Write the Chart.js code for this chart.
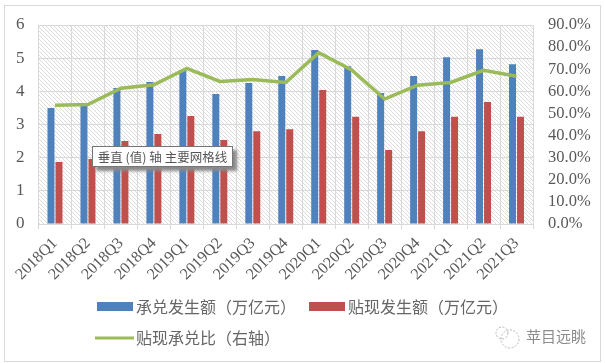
<!DOCTYPE html>
<html lang="zh">
<head>
<meta charset="UTF-8">
<title>承兑贴现</title>
<style>
    html, body { margin: 0; padding: 0; background: #fff; }
    #wrap { position: relative; width: 605px; height: 363px; overflow: hidden; }
    #chart { display: block; }
    #frame { position: absolute; left: 4px; top: 5px; width: 597px; height: 357px; border: 1px solid #d9d9d9; box-sizing: border-box; }
    #hint {
        position: absolute; left: 92px; top: 146px; width: 141px; height: 21px; line-height: 19px;
        box-sizing: border-box; background: #fff; border: 1px solid #767676; text-align: center;
        font: 12.5px "Noto Sans CJK SC"; color: #555; box-shadow: 4px 4px 3px #8a8a8a; white-space: nowrap;
    }
    #mark { position: absolute; left: 526px; top: 325px; font: 15px "Noto Sans CJK SC"; color: #8c8c8c; white-space: nowrap; }
    #icon { position: absolute; left: 494px; top: 326px; }
</style>
</head>
<body>
<div id="wrap">
    <canvas id="chart" width="605" height="363"></canvas>
    <div id="frame"></div>
    <div id="hint">垂直 (值) 轴 主要网格线</div>
    <svg id="icon" width="28" height="24" fill="none" stroke="#b5b5b5" stroke-width="1" stroke-dasharray="2 1.5">
        <circle cx="8" cy="7" r="6"/>
        <circle cx="16" cy="13" r="9"/>
    </svg>
    <div id="mark">苹目远眺</div>
</div>
<script src="https://cdn.jsdelivr.net/npm/chart.js"></script>
<script>
const quarters = ['2018Q1','2018Q2','2018Q3','2018Q4','2019Q1','2019Q2','2019Q3','2019Q4','2020Q1','2020Q2','2020Q3','2020Q4','2021Q1','2021Q2','2021Q3'];
const acceptance = [3.5,3.57,4.1,4.28,4.64,3.92,4.25,4.46,5.25,4.76,3.95,4.46,5.03,5.27,4.82];
const discount = [1.87,1.96,2.5,2.71,3.26,2.53,2.8,2.86,4.04,3.23,2.23,2.8,3.23,3.68,3.23];
const ratio = [53.7,54,61.4,63,70.4,64.5,65.4,64,77.5,69.7,56.5,62.8,64,69.5,66.8];
const leftTicks = [0,1,2,3,4,5,6];
const rightTicks = [0,10,20,30,40,50,60,70,80,90];

// diagonal hatch behind the plot area, drawn pixel by pixel so it stays crisp
function hatch(ctx) {
    const c = document.createElement('canvas');
    c.width = 4; c.height = 4;
    const p = c.getContext('2d');
    p.fillStyle = '#fff';
    p.fillRect(0, 0, 4, 4);
    p.fillStyle = '#dcdcdc';
    for (let i = 0; i < 4; i++) p.fillRect(i, i, 1, 1);
    return ctx.createPattern(c, 'repeat');
}

const plotHatch = {
    id: 'plotHatch',
    beforeDraw(chart) {
        const a = chart.chartArea, ctx = chart.ctx;
        ctx.save();
        ctx.fillStyle = hatch(ctx);
        ctx.fillRect(a.left, a.top, a.right - a.left, a.bottom - a.top);
        ctx.restore();
    }
};

// two row legend, the line sits below the first bar entry
const legendRows = {
    id: 'legendRows',
    afterDraw(chart) {
        const ctx = chart.ctx;
        const items = [
            { label: '承兑发生额（万亿元）', color: '#4f81bd', x: 97, y: 306.5, bar: true },
            { label: '贴现发生额（万亿元）', color: '#c0504d', x: 309, y: 306.5, bar: true },
            { label: '贴现承兑比（右轴）', color: '#9bbb59', x: 97, y: 338, bar: false }
        ];
        ctx.save();
        ctx.font = '16px "Noto Sans CJK SC"';
        ctx.textBaseline = 'middle';
        items.forEach(it => {
            ctx.fillStyle = it.color;
            if (it.bar) ctx.fillRect(it.x, it.y - 4.5, 36, 9);
            else ctx.fillRect(it.x - 2, it.y - 1.5, 39, 3);
            ctx.fillStyle = '#666';
            ctx.fillText(it.label, it.x + 39, it.y);
        });
        ctx.restore();
    }
};

new Chart(document.getElementById('chart'), {
    data: {
        labels: quarters,
        datasets: [
            { type: 'line', label: '贴现承兑比（右轴）', data: ratio, yAxisID: 'y1', borderColor: '#9bbb59', borderWidth: 3.5, pointRadius: 0, tension: 0, fill: false, order: 0 },
            { type: 'bar', label: '承兑发生额（万亿元）', data: acceptance, yAxisID: 'y', backgroundColor: '#4f81bd', categoryPercentage: 0.485, barPercentage: 0.875, order: 1 },
            { type: 'bar', label: '贴现发生额（万亿元）', data: discount, yAxisID: 'y', backgroundColor: '#c0504d', categoryPercentage: 0.485, barPercentage: 0.875, order: 1 }
        ]
    },
    options: {
        responsive: false,
        animation: false,
        layout: { padding: { left: 0, right: 0, top: 25, bottom: 0 } },
        plugins: { legend: { display: false }, tooltip: { enabled: false } },
        scales: {
            x: {
                afterFit(axis) { axis.height = 139; },
                grid: { color: '#d9d9d9', lineWidth: 1, tickLength: 5, tickColor: '#d9d9d9' },
                border: { color: '#d9d9d9' },
                ticks: { color: '#595959', font: { family: 'Liberation Serif', size: 16 }, minRotation: 45, maxRotation: 45, padding: 5, autoSkip: false }
            },
            y: {
                min: 0, max: 6,
                afterBuildTicks(axis) { axis.ticks = leftTicks.map(v => ({ value: v })); },
                afterFit(axis) { axis.width = 38.5; },
                grid: { color: '#d9d9d9', lineWidth: 1, tickLength: 0 },
                border: { color: '#d9d9d9' },
                ticks: { color: '#595959', font: { family: 'Liberation Serif', size: 17 }, padding: 14, autoSkip: false }
            },
            y1: {
                position: 'right', min: 0, max: 90,
                afterBuildTicks(axis) { axis.ticks = rightTicks.map(v => ({ value: v })); },
                afterFit(axis) { axis.width = 72; },
                grid: { drawOnChartArea: false, tickLength: 0 },
                border: { color: '#d9d9d9' },
                ticks: { color: '#595959', font: { family: 'Liberation Serif', size: 16.5 }, padding: 15, autoSkip: false, callback: v => v.toFixed(1) + '%' }
            }
        }
    },
    plugins: [plotHatch, legendRows]
});
</script>
</body>
</html>
